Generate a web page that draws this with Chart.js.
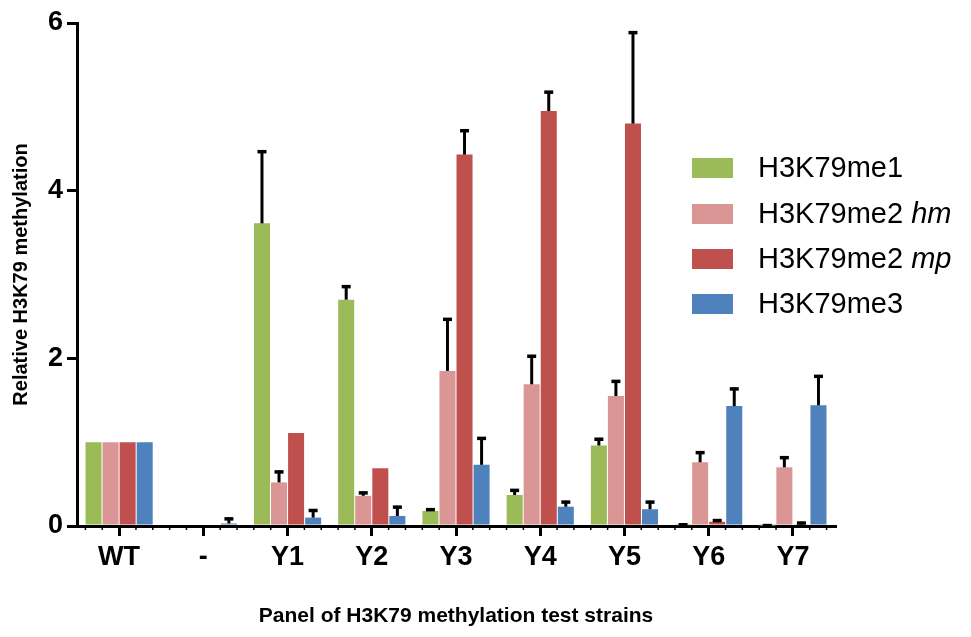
<!DOCTYPE html>
<html>
<head>
<meta charset="utf-8">
<script src="https://cdn.jsdelivr.net/npm/chart.js@4"></script>
<style>
html,body{margin:0;padding:0;background:#fff;}
#wrap{width:971px;height:637px;position:relative;}
</style>
</head>
<body>
<div id="wrap"><canvas id="c" width="971" height="637"></canvas></div>
<script>
const categories = ['WT', '-', 'Y1', 'Y2', 'Y3', 'Y4', 'Y5', 'Y6', 'Y7'];
const seriesNames = ['H3K79me1', 'H3K79me2', 'H3K79me2', 'H3K79me3'];
const seriesItalic = ['', 'hm', 'mp', ''];
const me1 = [1, 0, 3.61, 2.70, 0.18, 0.37, 0.96, 0.01, 0.005];
const me1Err = [0, 0, 0.87, 0.17, 0.03, 0.07, 0.09, 0.02, 0.015];
const me2hm = [1, 0, 0.52, 0.36, 1.85, 1.69, 1.55, 0.76, 0.70];
const me2hmErr = [0, 0, 0.14, 0.05, 0.63, 0.35, 0.19, 0.13, 0.13];
const me2mp = [1, 0, 1.11, 0.69, 4.43, 4.95, 4.80, 0.05, 0.02];
const me2mpErr = [0, 0, 0, 0, 0.30, 0.24, 1.10, 0.03, 0.03];
const me3 = [1, 0.03, 0.10, 0.12, 0.73, 0.23, 0.20, 1.43, 1.44];
const me3Err = [0, 0.07, 0.10, 0.12, 0.33, 0.07, 0.10, 0.22, 0.36];
const yTicks = [0, 2, 4, 6];
const colors = ['#9BBB59', '#DA9694', '#C0504D', '#4F81BD'];

const FONT = "'Liberation Sans', Arial, sans-serif";

const errorBars = {
  id: 'errorBars',
  afterDatasetsDraw(chart) {
    const ctx = chart.ctx;
    const ys = chart.scales.y;
    ctx.save();
    ctx.strokeStyle = '#000';
    chart.data.datasets.forEach((ds, i) => {
      const meta = chart.getDatasetMeta(i);
      meta.data.forEach((el, j) => {
        const e = ds.errors[j];
        if (!e) return;
        const yTop = ys.getPixelForValue(ds.data[j] + e);
        const yBar = el.y;
        ctx.lineWidth = 3;
        ctx.beginPath();
        ctx.moveTo(el.x, yBar);
        ctx.lineTo(el.x, yTop);
        ctx.stroke();
        ctx.lineWidth = 3.5;
        ctx.beginPath();
        ctx.moveTo(el.x - 4.5, yTop + 1.25);
        ctx.lineTo(el.x + 4.5, yTop + 1.25);
        ctx.stroke();
      });
    });
    ctx.restore();
  }
};

const minorTicks = {
  id: 'minorTicks',
  afterDraw(chart) {
    const ctx = chart.ctx;
    const xs = chart.scales.x;
    const y0 = chart.chartArea.bottom;
    ctx.save();
    ctx.strokeStyle = '#000';
    ctx.lineWidth = 1.5;
    for (let i = 0; i < categories.length; i++) {
      for (let k = -2; k <= 2; k++) {
        if (k === 0) continue;
        const x = xs.getPixelForValue(i + k / 5);
        ctx.beginPath();
        ctx.moveTo(x, y0);
        ctx.lineTo(x, y0 + 4);
        ctx.stroke();
      }
    }
    ctx.restore();
  }
};

const customLegend = {
  id: 'customLegend',
  afterDraw(chart) {
    const ctx = chart.ctx;
    ctx.save();
    const rows = [168, 214, 259, 304];
    for (let i = 0; i < 4; i++) {
      const cy = rows[i];
      ctx.fillStyle = colors[i];
      ctx.fillRect(692, cy - 10, 41, 20);
      ctx.fillStyle = '#000';
      ctx.textBaseline = 'middle';
      ctx.textAlign = 'left';
      ctx.font = '29px ' + FONT;
      ctx.fillText(seriesNames[i], 758, cy + 1);
      if (seriesItalic[i]) {
        const w = ctx.measureText(seriesNames[i] + ' ').width;
        ctx.font = 'italic 29px ' + FONT;
        ctx.fillText(seriesItalic[i], 758 + w, cy + 1);
      }
    }
    ctx.restore();
  }
};

const dataSeries = [me1, me2hm, me2mp, me3];
const errSeries = [me1Err, me2hmErr, me2mpErr, me3Err];

new Chart(document.getElementById('c'), {
  type: 'bar',
  data: {
    labels: categories,
    datasets: dataSeries.map((d, i) => ({
      label: seriesNames[i] + (seriesItalic[i] ? ' ' + seriesItalic[i] : ''),
      data: d,
      errors: errSeries[i],
      backgroundColor: colors[i],
      borderWidth: 0,
      categoryPercentage: 0.81,
      barPercentage: 0.94
    }))
  },
  options: {
    responsive: false,
    animation: false,
    layout: { padding: { top: 23, right: 136, left: 0, bottom: 0 } },
    plugins: {
      legend: { display: false },
      tooltip: { enabled: false }
    },
    scales: {
      x: {
        afterFit(s) { s.height = 111; },
        border: { color: '#000', width: 3 },
        grid: { display: true, drawOnChartArea: false, offset: false, color: '#000', lineWidth: 3, tickLength: 10, tickColor: '#000' },
        ticks: { color: '#000', font: { family: FONT, size: 27, weight: 'bold' }, padding: 5, maxRotation: 0, autoSkip: false },
        title: { display: true, text: 'Panel of H3K79 methylation test strains', color: '#000', font: { family: FONT, size: 21, weight: 'bold' }, padding: { top: 0, bottom: 8 } }
      },
      y: {
        min: 0,
        max: 6,
        afterFit(s) { s.width = 77; },
        afterBuildTicks(s) { s.ticks = yTicks.map(v => ({ value: v })); },
        border: { color: '#000', width: 3 },
        grid: { display: true, drawOnChartArea: false, color: '#000', lineWidth: 3, tickLength: 10, tickColor: '#000' },
        ticks: { color: '#000', font: { family: FONT, size: 27, weight: 'bold' }, padding: 4 },
        title: { display: true, text: 'Relative H3K79 methylation', color: '#000', font: { family: FONT, size: 20, weight: 'bold' }, padding: { top: 9, bottom: 0 } }
      }
    }
  },
  plugins: [errorBars, minorTicks, customLegend]
});
</script>
</body>
</html>
